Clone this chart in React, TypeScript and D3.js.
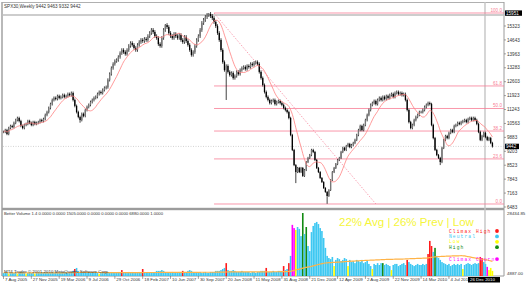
import React from "react";
import * as d3 from "d3";

// ---------- DATA ----------
const symbolTitle = "SPX30,Weekly  9442 9463 9332 9442";
const volTitle = "Better Volume 1.4 0.0000 0.0000 1505.0000 0.0000 0.0000 0.0000 6880.0000 1.0000";
const copyright = "MT4 Trader \u00a9 2001-2010 MetaQuotes Software Corp.";

const closes: number[] = [
  10150,10240,10050,10340,10440,10390,10590,10730,10830,10680,
  10440,10340,10490,10540,10680,10590,10490,10630,10540,10590,
  10630,10730,10680,10780,10980,11120,11320,11510,11710,11810,
  11760,11900,11810,11860,11950,11860,11900,12000,11950,12050,
  11710,11420,11120,10880,10730,11030,10930,11220,11370,11470,
  11610,11710,11810,11860,12000,12100,12050,12200,12300,12340,
  12690,12980,13270,13470,13610,13660,13810,14000,14150,14050,
  13960,14150,14350,14490,14400,14250,14150,14400,14540,14640,
  14590,14690,14640,14830,14980,15130,15030,14830,14740,14440,
  14350,14740,15130,15370,15270,14980,14830,14740,14930,14830,
  14740,14880,14640,14540,14790,14590,14400,14150,13910,14050,
  14350,14640,14830,15130,15470,15620,15760,15860,15910,15810,
  15710,15520,15320,14980,14640,14150,13560,13170,13370,13080,
  12930,13030,12780,12880,13080,12980,13170,13270,13320,13220,
  13370,13320,13470,13420,13520,13560,13470,13080,12780,12440,
  12100,11860,11710,11560,11660,11710,11510,11610,11660,11560,
  11470,11320,11220,11120,10830,10000,9270,8530,8190,8390,
  8190,8390,8000,8290,8680,8880,9020,9270,9170,8780,
  8390,8190,7900,7700,7410,7220,7020,7310,7800,8190,
  8390,8580,8780,8880,9170,9370,9270,9460,9560,9410,
  9510,9610,9760,10000,10240,10440,10240,10490,10730,10980,
  11220,11470,11560,11660,11510,11710,11810,11710,11860,11760,
  11900,11810,11950,12000,11860,12050,12100,12000,12050,11950,
  12000,11710,11220,10630,10340,10490,10730,10880,10980,11120,
  11120,11220,11370,11470,11560,11510,10490,9850,9270,9020,
  8880,8680,9370,9760,9950,9850,10100,10240,10150,10440,
  10490,10590,10540,10630,10680,10730,10630,10780,10830,10730,
  10830,10730,10540,10150,9760,9950,10100,9900,9760,9850,9610,9442,
];

// notable wick extremes
const wickHighs: Record<number, number> = { 118: 15958, 93: 15420 };
const wickLows: Record<number, number> = { 128: 11710, 186: 6640, 168: 7650, 44: 10600, 251: 8530 };

const volumes: number[] = [
  6000,6400,6000,5600,6400,6000,6000,6400,5600,6000,
  6400,6000,6000,5600,6000,6400,6000,6000,5600,6000,
  6000,6000,6400,6000,6400,6400,6000,6000,6400,6000,
  6400,6000,6000,6400,6400,6000,6400,6000,6000,6400,
  6800,7500,7900,6800,6400,6400,6000,6000,6400,6000,
  6000,6000,6400,6000,6000,5600,6000,6000,6000,6400,
  6000,6000,6400,6000,6000,6000,6400,6400,7100,6000,
  6000,6000,6400,6000,6400,6000,6000,6000,6400,6000,
  7500,6400,6000,6400,6000,6000,6000,6400,6800,6800,
  6800,7100,6800,6400,6400,6000,6000,6400,6000,6000,
  6000,6400,6000,6800,6400,6400,6800,7100,6800,6400,
  6400,6400,6000,6400,6000,6000,6400,6000,6000,6400,
  6400,6400,6800,6800,6800,7100,7500,7900,9700,7100,
  6800,6800,7100,6800,6400,6400,6400,6800,6400,6400,
  6400,6400,6000,6400,6400,6000,6400,6400,6800,6800,
  6800,7900,6400,6400,6400,6800,6400,6400,6800,6800,
  6800,8600,7100,7500,9700,12400,24000,22800,22100,23200,
  22500,19800,28434.85,20600,23200,16100,14200,21300,23600,24700,
  25100,24300,22800,21700,19100,15400,12400,11600,11200,12000,
  8600,10900,11600,11200,10500,10900,11600,11200,8600,10900,
  10100,10500,9700,10900,10500,10100,10900,9700,10100,10500,
  9400,8600,7500,9400,9000,9700,9000,9700,9700,9000,
  9400,9000,8600,7100,9000,9400,9400,8600,9000,9400,
  9700,9000,10900,10100,9400,9000,8600,9000,9400,9000,
  9000,9400,9000,9400,13100,18000,16100,13900,15400,12400,
  11600,10900,10100,9700,9400,9000,9400,8600,9000,9400,
  9000,9400,9000,9400,7500,9000,9400,9700,9400,9000,
  9400,9700,9400,9700,12000,11600,10100,9400,8300,7100,7900,6800,
];

// bar class: r climax high, y low, g high, m climax churn (others neutral)
const volClass: Record<number, string> = {
  3: "y", 8: "y", 13: "y", 18: "y", 55: "y",
  41: "r", 68: "r", 80: "r", 103: "r", 128: "r", 151: "r", 161: "r", 164: "r",
  166: "m", 167: "m", 168: "y", 172: "g", 174: "g",
  190: "y", 198: "y", 212: "y", 218: "g", 223: "y", 232: "r",
  244: "r", 245: "r", 246: "r", 248: "g", 264: "y",
  274: "r", 275: "r", 278: "m", 279: "y", 280: "y", 281: "y",
};

const priceTicks = [6483, 7163, 7843, 8523, 9203, 9883, 10563, 11243, 11923, 12603, 13283, 13963, 14643, 15323];
const timeLabels = [
  "7 Aug 2005", "27 Nov 2005", "19 Mar 2006", "9 Jul 2006", "29 Oct 2006", "18 Feb 2007",
  "10 Jun 2007", "30 Sep 2007", "20 Jan 2008", "11 May 2008", "31 Aug 2008", "21 Dec 2008",
  "12 Apr 2009", "2 Aug 2009", "22 Nov 2009", "14 Mar 2010", "4 Jul 2010",
];
const lastTimeLabel = "26 Dec 2010";
const fibLevels = [0, 23.6, 38.2, 50, 61.8, 100];
const fibHigh = 15958;
const fibLow = 6630;
const fibStartIdx = 121;
const fibEndIdx = 214;
const topBoxPrice = "15951";
const lastPrice = 9442;
const volMaxLabel = "28434.85";
const volMinLabel = "4887.00";
const volMin = 4887;
const volMax = 28434.85;
const summaryText = "22% Avg | 26% Prev | Low";
const legendLabels = ["Climax High", "Neutral", "Low", "High", "Climax Churn"];
const legendKeys = ["r", "n", "y", "g", "m"];

const colorOf: Record<string, string> = {
  n: "#3ec8f2",
  r: "#ff1a1a",
  y: "#ffff00",
  g: "#128a12",
  m: "#ff00ff",
};

const SANS = "'Liberation Sans', Arial, sans-serif";
const MONO = "'Liberation Mono', 'Courier New', monospace";

export default function App() {
  const W = 527, H = 294;
  const n = closes.length;
  const step = 1.74;
  const x = d3.scaleLinear().domain([0, n - 1]).range([3.5, 3.5 + step * (n - 1)]);
  const y = d3.scaleLinear().domain([6483, 15323]).range([207, 26]);
  const vy = d3.scaleLinear().domain([volMin, volMax]).range([276, 213]);

  const bars = closes.map((c, i) => {
    const o = i ? closes[i - 1] : c;
    const w = c * 0.006;
    const hi = wickHighs[i] ?? Math.max(o, c) + w;
    const lo = wickLows[i] ?? Math.min(o, c) - w;
    return { i, o, c, hi, lo };
  });

  const ma = closes.map((_, i) => d3.mean(closes.slice(Math.max(0, i - 9), i + 1)) as number);
  const maLine = d3.line<number>().x((_, i) => x(i)).y((d) => y(d)).curve(d3.curveMonotoneX)(ma) || "";

  const vma = volumes.map((_, i) => d3.mean(volumes.slice(Math.max(0, i - 99), i + 1)) as number);
  const vmaLine = d3.line<number>().x((_, i) => x(i)).y((d) => vy(d)).curve(d3.curveMonotoneX)(vma) || "";

  const axisX = 504;
  const fibX0 = x(fibStartIdx);
  const fibPrice = (lvl: number) => fibLow + (fibHigh - fibLow) * (lvl / 100);
  const pink = "#f77d95";

  return (
    <svg width={W} height={H} style={{ position: "absolute", left: 0, top: 0, background: "#fff" }}
      fontFamily={SANS}>
      <rect x={0} y={0} width={W} height={H} fill="#fff" />
      {/* frame */}
      <line x1={2} x2={axisX} y1={2.5} y2={2.5} stroke="#b0b0b0" strokeWidth={1} />
      <line x1={2} x2={2} y1={2} y2={276} stroke="#a8a8a8" strokeWidth={1.6} />
      <line x1={axisX} x2={axisX} y1={2} y2={276} stroke="#9a9a9a" strokeWidth={1} />
      <rect x={2} y={207.8} width={axisX - 2} height={2.4} fill="#9c9c9c" />
      <line x1={2} x2={axisX} y1={276} y2={276} stroke="#9a9a9a" strokeWidth={1} />
      <line x1={485} x2={485} y1={2} y2={276} stroke="#c4c4c4" strokeWidth={1.4} />
      <line x1={2} x2={axisX} y1={15} y2={15} stroke="#bdbdbd" strokeWidth={1.4} />

      {/* title */}
      <text x={4} y={8} fontSize={4.6} fill="#333">{symbolTitle}</text>

      {/* current price dotted */}
      <line x1={3} x2={axisX} y1={y(lastPrice)} y2={y(lastPrice)} stroke="#b5b5b5" strokeWidth={0.6} strokeDasharray="1,1.5" />

      {/* fibonacci */}
      <line x1={fibX0} y1={y(fibHigh)} x2={x(fibEndIdx)} y2={y(fibLow)} stroke={pink} strokeWidth={0.7} strokeDasharray="1.5,1.5" />
      {fibLevels.map((l) => (
        <g key={l}>
          <line x1={fibX0} x2={axisX} y1={y(fibPrice(l))} y2={y(fibPrice(l))} stroke={pink} strokeWidth={0.8} />
          <text x={502} y={y(fibPrice(l)) - 1.2} fontSize={4.6} fill={pink} textAnchor="end">{l.toFixed(1)}</text>
        </g>
      ))}

      {/* candles */}
      {bars.map((b) => {
        const cx = x(b.i);
        const up = b.c >= b.o;
        const top = y(Math.max(b.o, b.c));
        const bh = Math.max(0.6, y(Math.min(b.o, b.c)) - top);
        return (
          <g key={b.i}>
            <line x1={cx} x2={cx} y1={y(b.hi)} y2={y(b.lo)} stroke="#111" strokeWidth={0.8} />
            <rect x={cx - 0.65} y={top} width={1.3} height={bh} fill={up ? "#777" : "#000"} />
          </g>
        );
      })}

      {/* moving average */}
      <path d={maLine} fill="none" stroke="#ff8080" strokeWidth={0.8} />

      {/* price axis */}
      {priceTicks.map((p) => (
        <g key={p}>
          <line x1={axisX} x2={axisX + 2} y1={y(p)} y2={y(p)} stroke="#666" strokeWidth={0.6} />
          <text x={axisX + 3} y={y(p) + 1.7} fontSize={4.6} fill="#333">{p}</text>
        </g>
      ))}
      <rect x={axisX + 1} y={y(fibHigh) - 2.6} width={17} height={5.4} fill="#000" />
      <text x={axisX + 2} y={y(fibHigh) + 1.7} fontSize={4.6} fill="#fff">{topBoxPrice}</text>
      <rect x={axisX + 1} y={y(lastPrice) - 2.7} width={14} height={5.4} fill="#000" />
      <text x={axisX + 2} y={y(lastPrice) + 1.7} fontSize={4.6} fill="#fff">{lastPrice}</text>

      {/* volume panel */}
      <text x={4} y={215} fontSize={4.2} fill="#333">{volTitle}</text>
      {volumes.map((v, i) => {
        const k = volClass[i] || "n";
        const top = vy(v);
        return <rect key={i} x={x(i) - 0.8} y={top} width={1.6} height={276 - top} fill={colorOf[k]} />;
      })}
      <path d={vmaLine} fill="none" stroke="#ffb347" strokeWidth={1.2} />
      <text x={4} y={273} fontSize={4.4} fill="#333">{copyright}</text>

      <text x={339} y={226} fontSize={11.5} fill="#f5f53a">{summaryText}</text>
      {legendLabels.map((lab, j) => {
        const ly = 231 + j * 5.4 + (j === 4 ? 6.5 : 0);
        return (
          <g key={lab}>
            <text x={449} y={ly + 1.5} fontSize={4.6} letterSpacing={1.1} fontFamily={MONO} fill={colorOf[legendKeys[j]]}>{lab}</text>
            <circle cx={497} cy={ly} r={1.9} fill={colorOf[legendKeys[j]]} />
          </g>
        );
      })}
      <text x={axisX + 3} y={215} fontSize={4.4} fill="#333">{volMaxLabel}</text>
      <text x={axisX + 3} y={275} fontSize={4.4} fill="#333">{volMinLabel}</text>

      {/* time axis */}
      {timeLabels.map((t, k) => {
        const tx = x(k * 16);
        return (
          <g key={t}>
            <line x1={tx} x2={tx} y1={276} y2={279} stroke="#666" strokeWidth={0.6} />
            <text x={tx + 1.5} y={281} fontSize={4.4} fill="#333">{t}</text>
          </g>
        );
      })}
      <rect x={468} y={277} width={32} height={5.5} fill="#000" />
      <text x={470} y={281.3} fontSize={4.4} fill="#fff">{lastTimeLabel}</text>
    </svg>
  );
}
